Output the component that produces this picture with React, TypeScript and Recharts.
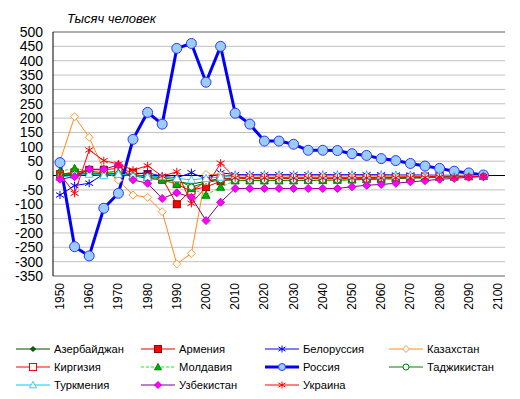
import { LineChart, Line, XAxis, YAxis, CartesianGrid, ReferenceLine } from 'recharts';

const years = [
  1950, 1955, 1960, 1965, 1970, 1975, 1980, 1985, 1990, 1995, 2000,
  2005, 2010, 2015, 2020, 2025, 2030, 2035, 2040, 2045, 2050, 2055,
  2060, 2065, 2070, 2075, 2080, 2085, 2090, 2095, 2100,
];
const yTicks = [-350, -300, -250, -200, -150, -100, -50, 0, 50, 100, 150, 200, 250, 300, 350, 400, 450, 500];

// 1950..2095, thousand people
const azerbaijan = [0, 5, 5, 5, 8, 0, -10, -15, -20, -30, -20, -12, -10, -10, -10, -10, -10, -10, -10, -10, -9, -9, -8, -7, -6, -5, -4, -3, -2, -1];
const armenia = [5, 10, 20, 20, 25, 10, 5, -10, -100, -50, -40, -20, -10, -10, -10, -10, -10, -10, -10, -10, -9, -8, -7, -6, -5, -4, -3, -2, -2, -1];
const belarus = [-68, -35, -27, 5, 0, 5, 10, -3, -8, 10, -12, 10, 3, 3, 3, 3, 3, 3, 3, 3, 3, 3, 3, 2, 2, 2, 1, 1, 0, 0];
const kazakhstan = [50, 205, 133, 20, -16, -68, -76, -126, -308, -271, 4, 2, -5, -5, -5, -5, -5, -5, -5, -5, -5, -5, -4, -4, -3, -3, -2, -2, -1, 0];
const kirgizia = [5, 10, 15, 10, 15, 5, -5, -15, -30, -55, -20, -10, -9, -9, -9, -9, -9, -9, -9, -9, -8, -8, -7, -6, -5, -4, -3, -2, -2, -1];
const moldova = [15, 25, 15, 10, 10, 0, -5, -15, -30, -45, -68, -40, -18, -18, -18, -18, -18, -17, -17, -16, -15, -14, -13, -11, -10, -8, -6, -5, -3, -2];
const russia = [45, -248, -280, -114, -62, 126, 220, 179, 443, 460, 325, 450, 217, 179, 120, 120, 109, 88, 88, 87, 76, 70, 59, 52, 42, 33, 25, 15, 9, 2];
const tajikistan = [0, 5, 10, 5, 5, 0, -3, -8, -15, -40, -25, -15, -17, -17, -17, -17, -17, -17, -16, -16, -15, -14, -12, -11, -9, -8, -6, -4, -3, -1];
const turkmenia = [-5, 0, 5, 0, 5, 0, -5, -3, -10, -15, -10, -5, 0, 0, 0, 0, 0, 0, 0, 0, 0, 0, 0, 0, 0, 0, 0, 0, 0, 0];
const uzbekistan = [-13, -4, 22, 22, 37, -15, -27, -80, -60, -76, -157, -93, -45, -45, -45, -45, -45, -45, -45, -45, -39, -34, -31, -27, -22, -18, -13, -10, -6, -4];
const ukraine = [5, -62, 89, 52, 40, 19, 34, -2, 13, -97, -40, 43, -8, -8, -8, -8, -9, -9, -9, -9, -9, -9, -9, -8, -8, -7, -6, -5, -4, -3];

type Shape = 'diamond' | 'square' | 'circle' | 'triangle' | 'star';

interface Series {
  name: string;
  data: number[];
  color: string;
  width: number;
  dash?: string;
  shape: Shape;
  r: number;
  fill: string;
  mstroke: string;
}

const series: Series[] = [
  { name: 'Азербайджан', data: azerbaijan, color: '#004d00', width: 1, shape: 'diamond', r: 2.5, fill: '#006400', mstroke: '#004000' },
  { name: 'Армения', data: armenia, color: '#e00000', width: 1, shape: 'square', r: 3.5, fill: '#ff0000', mstroke: '#990000' },
  { name: 'Белоруссия', data: belarus, color: '#0000ff', width: 1, shape: 'star', r: 4, fill: 'none', mstroke: '#0000ff' },
  { name: 'Казахстан', data: kazakhstan, color: '#ff8c1a', width: 1, shape: 'diamond', r: 4, fill: '#ffffff', mstroke: '#ff9933' },
  { name: 'Киргизия', data: kirgizia, color: '#ff0000', width: 1, shape: 'square', r: 3.5, fill: '#ffffff', mstroke: '#ff0000' },
  { name: 'Молдавия', data: moldova, color: '#00ff00', width: 1, dash: '3 2', shape: 'triangle', r: 4, fill: '#00b000', mstroke: '#008000' },
  { name: 'Россия', data: russia, color: '#0000ff', width: 3, shape: 'circle', r: 5, fill: '#99ccff', mstroke: '#3333ff' },
  { name: 'Таджикистан', data: tajikistan, color: '#008000', width: 1, shape: 'circle', r: 3, fill: '#ffffff', mstroke: '#008000' },
  { name: 'Туркмения', data: turkmenia, color: '#00ccff', width: 1, shape: 'triangle', r: 4, fill: '#ffffff', mstroke: '#33ccff' },
  { name: 'Узбекистан', data: uzbekistan, color: '#800080', width: 1, shape: 'diamond', r: 4, fill: '#ff00ff', mstroke: '#cc00cc' },
  { name: 'Украина', data: ukraine, color: '#ff0000', width: 1, shape: 'star', r: 4, fill: 'none', mstroke: '#ff0000' },
];

const chartData = years.map((year, i) => {
  const row: Record<string, number | string | null> = { year: String(year) };
  series.forEach((s) => {
    row[s.name] = i < s.data.length ? s.data[i] : null;
  });
  return row;
});

function marker(s: Series, cx: number, cy: number, key?: string | number) {
  const r = s.r;
  switch (s.shape) {
    case 'diamond':
      return <polygon key={key} points={`${cx},${cy - r} ${cx + r},${cy} ${cx},${cy + r} ${cx - r},${cy}`} fill={s.fill} stroke={s.mstroke} strokeWidth={1} />;
    case 'square':
      return <rect key={key} x={cx - r} y={cy - r} width={r * 2} height={r * 2} fill={s.fill} stroke={s.mstroke} strokeWidth={1} />;
    case 'circle':
      return <circle key={key} cx={cx} cy={cy} r={r} fill={s.fill} stroke={s.mstroke} strokeWidth={1} />;
    case 'triangle':
      return <polygon key={key} points={`${cx},${cy - r} ${cx + r},${cy + r * 0.8} ${cx - r},${cy + r * 0.8}`} fill={s.fill} stroke={s.mstroke} strokeWidth={1} />;
    case 'star':
      return (
        <g key={key} stroke={s.mstroke} strokeWidth={1}>
          <line x1={cx} y1={cy - r} x2={cx} y2={cy + r} />
          <line x1={cx - r} y1={cy - r * 0.6} x2={cx + r} y2={cy + r * 0.6} />
          <line x1={cx - r} y1={cy + r * 0.6} x2={cx + r} y2={cy - r * 0.6} />
        </g>
      );
  }
}

const XTick = (props: any) => {
  const { x, y, payload } = props;
  return (
    <text x={x} y={y} dy={4} transform={`rotate(-90, ${x}, ${y})`} textAnchor="end" fontSize={12} fill="#000">
      {payload.value}
    </text>
  );
};

const font = '"Liberation Sans", Arial, sans-serif';

export default function App() {
  return (
    <div style={{ position: 'absolute', left: 0, top: 0, width: 520, height: 399, background: '#fff', fontFamily: font }}>
      <div style={{ position: 'absolute', left: 67, top: 11, fontSize: 13, fontStyle: 'italic', color: '#000' }}>
        Тысяч человек
      </div>
      <LineChart width={520} height={330} data={chartData} margin={{ top: 32, right: 15, left: 0, bottom: 0 }}>
        <CartesianGrid horizontal vertical={false} stroke="#c0c0c0" />
        <XAxis
          dataKey="year"
          interval={1}
          padding={{ left: 7, right: 7 }}
          height={54}
          tickSize={0}
          tickMargin={7}
          tickLine={false}
          axisLine={{ stroke: '#808080' }}
          tick={<XTick />}
        />
        <YAxis
          domain={[-350, 500]}
          ticks={yTicks}
          interval={0}
          width={53}
          tickSize={0}
          tickMargin={10}
          tickLine={false}
          axisLine={{ stroke: '#000' }}
          tick={{ fontSize: 14, fill: '#000', fontFamily: font }}
        />
        <YAxis yAxisId="frame" orientation="right" width={0} tick={false} tickLine={false} axisLine={{ stroke: '#808080' }} />
        <ReferenceLine y={500} stroke="#808080" />
        <ReferenceLine y={0} stroke="#000" />
        {series.map((s) => (
          <Line
            key={s.name}
            dataKey={s.name}
            stroke={s.color}
            strokeWidth={s.width}
            strokeDasharray={s.dash}
            isAnimationActive={false}
            activeDot={false}
            dot={(p: any) =>
              p.cx == null || p.cy == null || p.value == null ? <g key={`${s.name}-${p.index}`} /> : marker(s, p.cx, p.cy, `${s.name}-${p.index}`)
            }
          />
        ))}
      </LineChart>
      {series.map((s, i) => {
        const col = i % 4;
        const row = Math.floor(i / 4);
        const left = [16, 141, 265, 389][col];
        const top = [349, 367, 385][row] - 7;
        return (
          <div key={s.name} style={{ position: 'absolute', left, top, height: 14, display: 'flex', alignItems: 'center', fontSize: 11.2, whiteSpace: 'nowrap' }}>
            <svg width={38} height={14} style={{ display: 'block' }}>
              <line x1={0} y1={7} x2={34} y2={7} stroke={s.color} strokeWidth={s.width} strokeDasharray={s.dash} />
              {marker({ ...s, r: Math.min(s.r, 3.5) }, 17, 7)}
            </svg>
            <span>{s.name}</span>
          </div>
        );
      })}
    </div>
  );
}
